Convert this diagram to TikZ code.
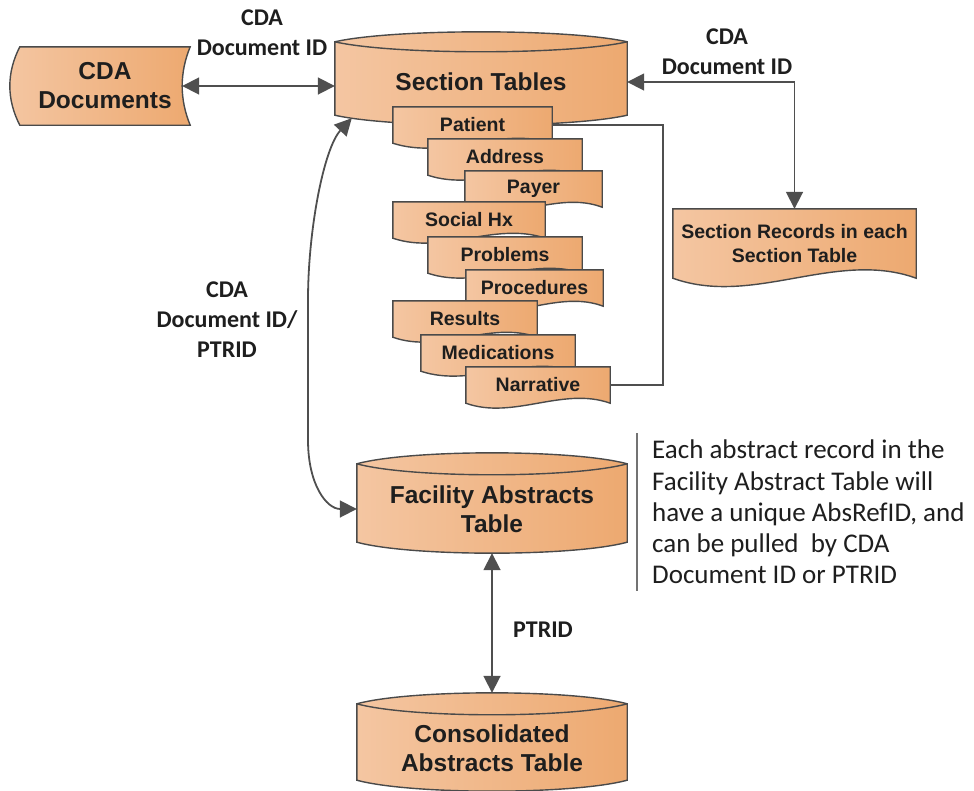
\documentclass[tikz,border=0pt]{standalone}
\usepackage{fontspec}
\setmainfont{Liberation Sans}
\newfontfamily\calfont{Carlito}
\usepackage{tikz}
\usetikzlibrary{arrows.meta,positioning,calc,backgrounds}

\definecolor{boxL}{HTML}{F4C6A2}
\definecolor{boxR}{HTML}{EDA970}
\definecolor{edge}{HTML}{4A4A4A}
\definecolor{wire}{HTML}{4F4F4F}
\definecolor{ink}{HTML}{1E1E1E}

\tikzset{
    boxfill/.style={draw=edge, line width=1.4pt, left color=boxL, right color=boxR},
    edgeline/.style={draw=edge, line width=1.4pt},
    bignode/.style={align=center, inner sep=0pt, text=ink,
                    font={\fontsize{24.5}{29}\selectfont\bfseries}},
    smallnode/.style={align=center, inner sep=0pt, text=ink,
                    font={\fontsize{19.5}{23.5}\selectfont\bfseries}},
    tab/.style={smallnode, minimum height=36pt},
    lbl/.style={align=center, inner sep=0pt, text=ink,
                font={\calfont\fontsize{24}{30}\selectfont\bfseries}},
    note/.style={align=left, inner sep=0pt, text=ink,
                font={\calfont\fontsize{27}{31.25}\selectfont}},
    link/.style={draw=wire, line width=1.8pt,
                 {Triangle[length=17pt,width=17pt]}-{Triangle[length=17pt,width=17pt]}},
    plain/.style={draw=wire, line width=1.5pt},
    noteline/.style={draw=black!55, line width=1.3pt}
}

% sheet with a wavy bottom behind node #1, wave depth #2
\newcommand{\tabsheet}[2]{%
  \begin{scope}[on background layer]
    \path[boxfill] (#1.north west) -- (#1.north east) -- (#1.south east)
      .. controls ($(#1.south east)!0.33!(#1.south west)+(0,-#2)$)
              and ($(#1.south east)!0.67!(#1.south west)+(0,#2)$) .. (#1.south west) -- cycle;
  \end{scope}}

% table drum behind node #1, bulge #2, bottom lifted by #3
\newcommand{\drumshape}[3]{%
  \begin{scope}[on background layer]
    \coordinate (dA) at ($(#1.north west)+(0,#2)$);
    \coordinate (dB) at ($(#1.north east)+(0,#2)$);
    \coordinate (dC) at ($(#1.south east)+(0,-#3-#2)$);
    \coordinate (dD) at ($(#1.south west)+(0,-#3-#2)$);
    \path[boxfill] (dA) .. controls ($(dA)!0.2!(dB)+(0,-1.33*#2)$) and ($(dA)!0.8!(dB)+(0,-1.33*#2)$) .. (dB)
      -- (dC) .. controls ($(dC)!0.2!(dD)+(0,1.33*#2)$) and ($(dC)!0.8!(dD)+(0,1.33*#2)$) .. (dD) -- cycle;
    \draw[edgeline] (dA) .. controls ($(dA)!0.2!(dB)+(0,1.33*#2)$) and ($(dA)!0.8!(dB)+(0,1.33*#2)$) .. (dB);
  \end{scope}}

\begin{document}
\begin{tikzpicture}[x=1pt, y=-1pt]
\useasboundingbox (0,0) rectangle (974,790);

% stored documents
\node[bignode, minimum width=170pt, minimum height=78pt] (cda) at (105,86) {CDA\\Documents};
\begin{scope}[on background layer]
  \path[boxfill] (cda.north west) -- (cda.north east)
    .. controls +(-10.7,26) and +(-10.7,-26) .. (cda.south east) -- (cda.south west)
    .. controls +(-13.3,-26) and +(-13.3,26) .. (cda.north west) -- cycle;
\end{scope}

% section tables and their sheets
\node[bignode, minimum width=292pt, minimum height=100pt] (sec) at (481,82) {Section Tables};
\drumshape{sec}{10}{7}

\node[tab, minimum width=159pt] (patient) at (472.5,125) {Patient};
\tabsheet{patient}{17}
\node[tab, minimum width=154pt] (address) at (505,157) {Address};
\tabsheet{address}{17}
\node[tab, minimum width=137pt] (payer) at (533.5,189) {Payer};
\tabsheet{payer}{17}
\node[tab, minimum width=152pt] (socialhx) at (469,220) {Social Hx};
\tabsheet{socialhx}{17}
\node[tab, minimum width=154pt] (problems) at (505,255) {Problems};
\tabsheet{problems}{17}
\node[tab, minimum width=137pt] (procedures) at (534.5,288) {Procedures};
\tabsheet{procedures}{17}
\node[tab, minimum width=144pt] (results) at (465,319) {Results};
\tabsheet{results}{17}
\node[tab, minimum width=154pt] (medications) at (498,353) {Medications};
\tabsheet{medications}{17}
\node[tab, minimum width=144pt] (narrative) at (538,385) {Narrative};
\tabsheet{narrative}{17}

\node[smallnode, minimum width=243pt, minimum height=69pt] (rec) at (794.5,243.5) {Section Records in each\\Section Table};
\tabsheet{rec}{29}

% abstract tables
\node[bignode, minimum width=270pt, minimum height=112pt] (fac) at (492,509) {Facility Abstracts\\Table};
\drumshape{fac}{11}{12}
\node[bignode, minimum width=270pt, minimum height=110pt] (con) at (492,748) {Consolidated\\Abstracts Table};
\drumshape{con}{11}{12}

% key labels
\node[lbl] (idtop) at (262,33) {CDA\\Document ID};
\node[lbl] (idright) at (727,52) {CDA\\Document ID};
\node[lbl] (idleft) at (227,320) {CDA\\Document ID/\\PTRID};
\node[lbl] (ptrid) at (543,630) {PTRID};

\node[note, anchor=north west] (remark) at (652,440) {Each abstract record in the\\Facility Abstract Table will\\have a unique AbsRefID, and\\can be pulled \ by CDA\\Document ID or PTRID};
\draw[noteline] ([xshift=-15pt,yshift=7pt]remark.north west) -- ([xshift=-15pt,yshift=-7pt]remark.south west);

% links
\draw[link] ([xshift=-8pt]cda.east) -- (cda.east -| sec.west);
\draw[link] (sec.east) -| (rec.north);
\draw[plain] (patient.east) -- ++(111,0) |- (narrative.east);
\draw[link] ($(sec.south west)+(17,-14)$) .. controls +(-28,30) and +(0,-70) .. (308,300)
    -- (308,440) .. controls +(0,45) and +(-30,0) .. (fac.west);
\draw[link] ([yshift=12pt]fac.south) -- (con.north);
\end{tikzpicture}
\end{document}
